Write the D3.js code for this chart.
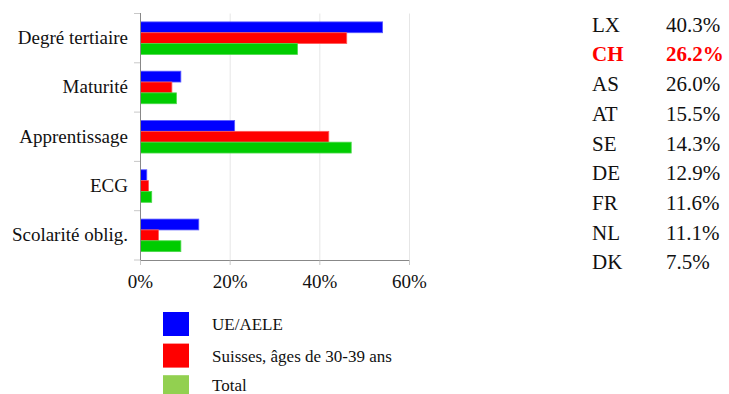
<!DOCTYPE html>
<html><head><meta charset="utf-8">
<script src="https://cdn.jsdelivr.net/npm/d3@7"></script>
<style>html,body{margin:0;padding:0;background:#fff;}svg{display:block;}
svg text{font-family:"Liberation Serif","Times New Roman",Times,serif;}</style>
</head><body>
<svg id="c" width="729" height="394"></svg>
<script>
const categories = ["Degré tertiaire","Maturité","Apprentissage","ECG","Scolarité oblig."];
const seriesNames = ["UE/AELE","Suisses, âges de 30-39 ans","Total"];
const ueAele = [54.0, 9.0, 21.0, 1.4, 13.0];
const suisses = [46.0, 7.0, 42.0, 1.8, 4.0];
const total = [35.0, 8.0, 47.0, 2.5, 9.0];
const xTicks = [0, 20, 40, 60];
const countries = ["LX","CH","AS","AT","SE","DE","FR","NL","DK"];
const countryValues = ["40.3%","26.2%","26.0%","15.5%","14.3%","12.9%","11.6%","11.1%","7.5%"];

const barFill = ["#0000ff","#ff0000","#00cc00"];
const barStroke = ["#5a5aff","#ff5a5a","#4ad84a"];
const legendFill = ["#0000ff","#ff0000","#92d050"];
const seriesVals = [ueAele, suisses, total];

const svg = d3.select("#c");
const x = d3.scaleLinear().domain([0,60]).range([140.5,409.5]);
const y0 = d3.scaleBand().domain(categories).range([13.5,260]).paddingInner(0.34).paddingOuter(0.17);
const y1 = d3.scaleBand().domain(d3.range(3)).range([0,y0.bandwidth()]);

// gridlines
svg.append("g").selectAll("line").data(xTicks.filter(d=>d>0)).join("line")
  .attr("x1",d=>x(d)).attr("x2",d=>x(d)).attr("y1",13.5).attr("y2",260)
  .attr("stroke","#e6e6e6").attr("stroke-width",1);

// bars
const g = svg.append("g");
categories.forEach((c,i)=>{
  seriesVals.forEach((vals,s)=>{
    g.append("rect")
      .attr("x",x(0)).attr("y",y0(c)+y1(s))
      .attr("width",x(vals[i])-x(0)).attr("height",y1.bandwidth())
      .attr("fill",barFill[s]).attr("stroke",barStroke[s]).attr("stroke-width",0.8);
  });
});

// left axis with separators
const step = y0.step();
const seps = d3.range(categories.length+1).map(i=>13.5+i*step);
svg.append("g").selectAll("line").data(seps).join("line")
  .attr("x1",134).attr("x2",140.5).attr("y1",d=>d).attr("y2",d=>d)
  .attr("stroke","#c8c8c8");
svg.append("line").attr("x1",140.5).attr("x2",140.5).attr("y1",13).attr("y2",260.5)
  .attr("stroke","#888").attr("stroke-width",1);
svg.append("g").selectAll("text").data(categories).join("text")
  .attr("x",128).attr("y",d=>y0(d)+y0.bandwidth()/2+6)
  .attr("text-anchor","end").attr("font-size",19).attr("fill","#111")
  .text(d=>d);

// bottom axis
svg.append("line").attr("x1",140.5).attr("x2",409.5).attr("y1",260.5).attr("y2",260.5)
  .attr("stroke","#888").attr("stroke-width",1);
svg.append("g").selectAll("line").data(xTicks).join("line")
  .attr("x1",d=>x(d)).attr("x2",d=>x(d)).attr("y1",260.5).attr("y2",265)
  .attr("stroke","#c8c8c8");
svg.append("g").selectAll("text").data(xTicks).join("text")
  .attr("x",d=>x(d)).attr("y",288).attr("text-anchor","middle")
  .attr("font-size",19).attr("fill","#111")
  .text(d=>d+"%");

// legend
const lg = svg.append("g");
seriesNames.forEach((n,i)=>{
  const cy = 324 + i*31.6;
  lg.append("rect").attr("x",163).attr("y",cy-12).attr("width",26).attr("height",24).attr("fill",legendFill[i]);
  lg.append("text").attr("x",212).attr("y",Math.min(cy+6,391)).attr("font-size",17)
    .attr("fill","#111").text(n);
});

// country table
const tg = svg.append("g");
countries.forEach((c,i)=>{
  const by = 31.7 + i*29.7;
  const isCH = c==="CH";
  tg.append("text").attr("x",592).attr("y",by).attr("font-size",21)
    .attr("font-weight",isCH?"bold":"normal").attr("fill",isCH?"#ff0000":"#111").text(c);
  tg.append("text").attr("x",666).attr("y",by).attr("font-size",21)
    .attr("font-weight",isCH?"bold":"normal").attr("fill",isCH?"#ff0000":"#111").text(countryValues[i]);
});
</script>
</body></html>
